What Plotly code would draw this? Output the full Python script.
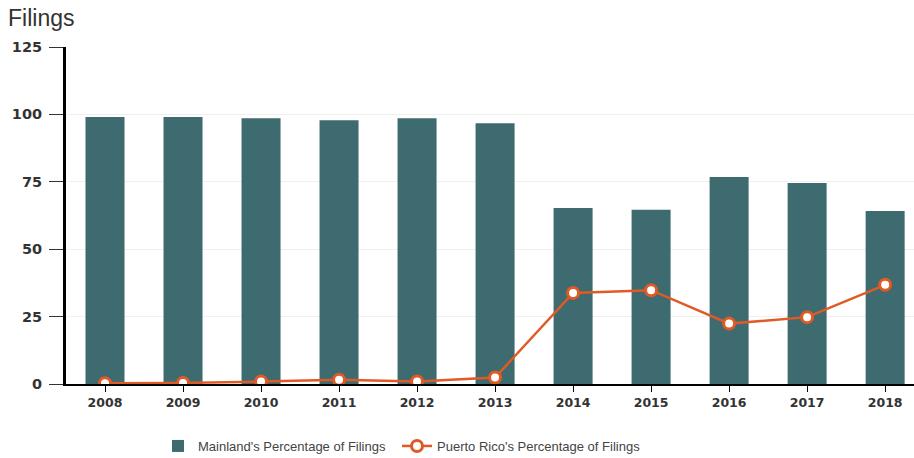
import plotly.graph_objects as go

years = ["2008", "2009", "2010", "2011", "2012", "2013", "2014", "2015", "2016", "2017", "2018"]
mainland = [99.0, 99.0, 98.6, 97.8, 98.6, 96.7, 65.3, 64.6, 76.8, 74.6, 64.2]
puerto_rico = [0.3, 0.4, 0.9, 1.6, 0.9, 2.4, 33.8, 34.8, 22.4, 24.8, 36.8]

bar_color = "#3d6b6f"
line_color = "#e05a26"

fig = go.Figure()
fig.add_trace(go.Bar(
    x=years, y=mainland, name="Mainland's Percentage of Filings",
    marker=dict(color=bar_color, line=dict(width=0)),
    legendwidth=194,
))
fig.add_trace(go.Scatter(
    x=years, y=puerto_rico, name="Puerto Rico's Percentage of Filings",
    mode="lines+markers",
    line=dict(color=line_color, width=2.5),
    marker=dict(size=11, color="white", line=dict(color=line_color, width=3)),
    legendwidth=215,
))

fig.update_layout(
    width=914, height=458,
    margin=dict(l=66, r=0, t=47, b=74, autoexpand=False),
    paper_bgcolor="white", plot_bgcolor="white",
    bargap=0.5,
    font=dict(family="Liberation Sans", color="#333"),
    title=dict(text="Filings", x=8/914, xref="container", xanchor="left",
               y=1-18/458, yref="container", yanchor="middle",
               pad=dict(l=0, r=0, t=0, b=0),
               font=dict(size=23, color="#333", family="Liberation Sans")),
    showlegend=True,
    legend=dict(orientation="h", x=158/914, xref="container", xanchor="left",
                y=1-446/458, yref="container", yanchor="middle",
                font=dict(size=13, color="#444", family="Liberation Sans"),
                traceorder="normal"),
    hovermode=False,
)
fig.update_xaxes(
    type="category", range=[-0.5, 10.37], automargin=False,
    showline=True, linecolor="black", linewidth=2,
    ticks="outside", ticklen=6, tickcolor="black", tickwidth=1,
    tickfont=dict(size=12.5, color="#333", family="DejaVu Sans", weight="bold"),
    showgrid=False,
)
fig.update_yaxes(
    range=[0, 125], dtick=25, automargin=False,
    showline=True, linecolor="black", linewidth=3,
    ticks="outside", ticklen=14, tickcolor="#333", tickwidth=1,
    ticklabelstandoff=4,
    tickfont=dict(size=14.5, color="#333", family="DejaVu Sans", weight="bold"),
    showgrid=True, gridcolor="#f0f0f0", gridwidth=1,
    zeroline=False,
)

fig.write_html("out.html", config={"displayModeBar": False},
               post_script="document.body.style.margin='0';")
